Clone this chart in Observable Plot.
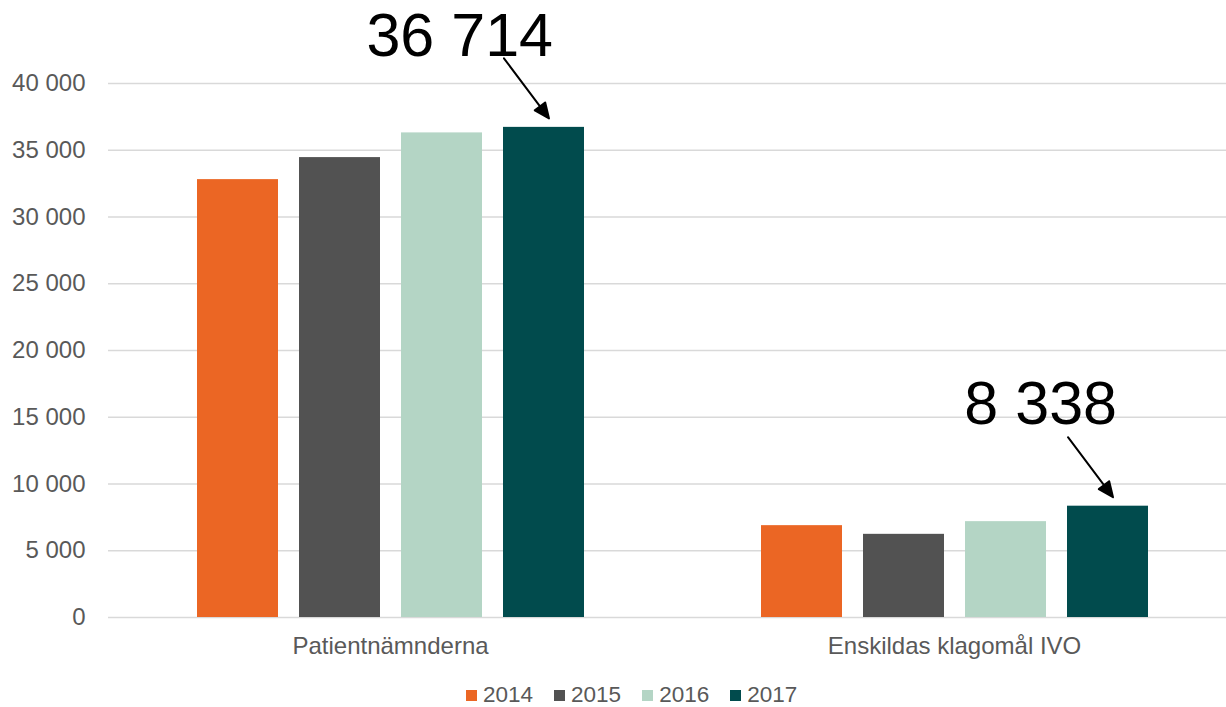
<!DOCTYPE html>
<html>
<head>
<meta charset="utf-8">
<script src="https://cdn.jsdelivr.net/npm/d3@7"></script>
<script src="https://cdn.jsdelivr.net/npm/@observablehq/plot@0.6"></script>
<style>
  html, body { margin: 0; padding: 0; background: #fff; }
  #wrap { position: relative; width: 1226px; height: 707px; overflow: hidden; font-family: 'Liberation Sans', Arial, sans-serif; }
  #chart svg { max-width: none !important; display: block; }
  #legend { position: absolute; left: 466px; top: 683px; height: 24px; display: flex; align-items: center; gap: 21px; font-size: 22.5px; color: #595959; line-height: 24px; }
  .item { display: flex; align-items: center; gap: 6px; }
  .sw { width: 11px; height: 11px; display: inline-block; }
</style>
</head>
<body>
<div id="wrap"><div id="chart"></div><div id="legend"></div></div>
<script>
const groups = ["Patientnämnderna", "Enskildas klagomål IVO"];
const years = ["2014", "2015", "2016", "2017"];
const patientValues = [32800, 34450, 36300, 36714];
const ivoValues = [6880, 6230, 7180, 8338];
const yTicks = [0, 5000, 10000, 15000, 20000, 25000, 30000, 35000, 40000];
const colors = ["#EB6624", "#525252", "#B4D5C5", "#014B4D"];
const annotationLabels = ["36 714", "8 338"];

const series = [patientValues, ivoValues];
const rows = groups.flatMap((g, gi) => years.map((yr, i) => ({group: g, year: yr, value: series[gi][i]})));
const annotations = groups.map((g, gi) => ({group: g, year: years[3], value: series[gi][3], label: annotationLabels[gi]}));
const fmt = d => d3.format(",")(d).replace(/,/g, " ");

const arrowShape = {
  draw(context, l) {
    const h = 15, w = 6.5;
    context.moveTo(0, 0);
    context.lineTo(0, -l + h);
    context.moveTo(0, -l);
    context.lineTo(-w, -l + h);
    context.lineTo(w, -l + h);
    context.closePath();
  }
};

const textDy = [-91, -102];

const chart = Plot.plot({
  width: 1236,
  height: 670,
  marginLeft: 108,
  marginRight: 0,
  marginTop: 83,
  marginBottom: 53,
  style: {fontFamily: "'Liberation Sans', Arial, sans-serif", fontSize: "24px", color: "#595959", background: "white", overflow: "visible"},
  fx: {domain: groups, padding: 0, label: null, axis: "bottom", tickSize: 0, tickPadding: 19},
  x: {domain: years, paddingInner: 0.21, paddingOuter: 0.86, axis: null},
  y: {domain: [0, 40000], ticks: yTicks, tickSize: 0, tickPadding: 23, tickFormat: fmt, label: null},
  color: {domain: years, range: colors},
  marks: [
    Plot.ruleY(yTicks, {stroke: "#d9d9d9", strokeWidth: 1.3}),
    Plot.barY(rows, {fx: "group", x: "year", y: "value", fill: "year"}),
    ...annotations.map((a, i) => Plot.text([a], {
      fx: "group", x: "year", y: "value", text: "label",
      textAnchor: "end", dx: 9, dy: textDy[i], fontSize: 61, fill: "black"
    })),
    Plot.vector(annotations, {
      fx: "group", x: "year", y: "value", anchor: "end",
      length: 75, rotate: 143.1, shape: arrowShape,
      dx: 5, dy: -9, stroke: "black", fill: "black", strokeWidth: 2
    })
  ]
});
document.getElementById("chart").appendChild(chart);

const legend = document.getElementById("legend");
years.forEach((yr, i) => {
  const item = document.createElement("div");
  item.className = "item";
  const sw = document.createElement("span");
  sw.className = "sw";
  sw.style.background = colors[i];
  const t = document.createElement("span");
  t.textContent = yr;
  item.appendChild(sw);
  item.appendChild(t);
  legend.appendChild(item);
});
</script>
</body>
</html>
